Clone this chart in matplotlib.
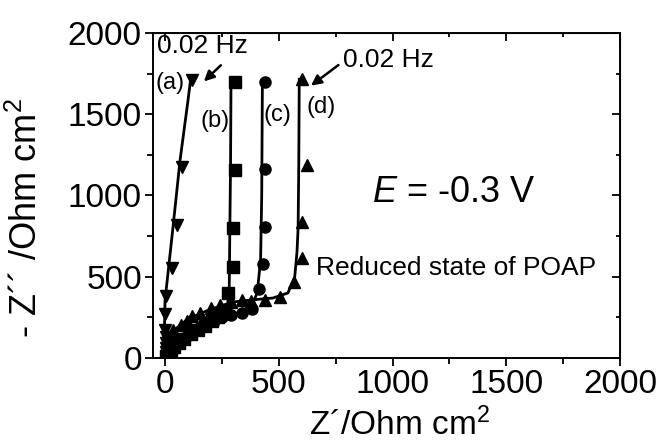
import matplotlib
matplotlib.use("Agg")
import matplotlib.pyplot as plt

plt.rcParams['font.family'] = ['Liberation Sans', 'DejaVu Sans']
plt.rcParams['mathtext.fontset'] = 'custom'
plt.rcParams['mathtext.rm'] = 'Liberation Sans'
plt.rcParams['mathtext.it'] = 'Liberation Sans:italic'

# ---- data ----
# (a) inverted triangles
xa = [3, 3, 3, 5, 3, 0, 0, 5, 31, 52, 75, 120]
ya = [15, 35, 60, 95, 130, 172, 270, 380, 553, 818, 1174, 1710]
fxa = [-5, 0, 13, 35, 66, 101, 112]
fya = [0, 356, 522, 805, 1217, 1586, 1710]

# (b) squares
xb = [5, 12, 25, 40, 60, 85, 115, 145, 175, 205, 235, 263, 276, 298, 298, 307, 307]
yb = [12, 28, 45, 65, 90, 115, 145, 175, 200, 225, 255, 295, 402, 559, 800, 1155, 1696]
fxb = [0, 100, 200, 270, 282, 285, 288, 290]
fyb = [0, 120, 210, 290, 400, 800, 1200, 1700]

# (c) circles
xc = [5, 12, 25, 40, 60, 90, 120, 150, 180, 215, 250, 290, 338, 382, 412, 430, 439, 439, 439]
yc = [12, 30, 50, 75, 100, 130, 160, 185, 205, 230, 250, 265, 277, 300, 424, 578, 805, 1160, 1696]
fxc = [0, 150, 300, 380, 405, 420, 425, 428]
fyc = [0, 170, 260, 320, 400, 600, 1000, 1700]

# (d) triangles
xd = [2, 5, 10, 20, 35, 70, 96, 120, 154, 200, 241, 290, 338, 380, 440, 504, 566, 601, 601, 623, 601]
yd = [30, 60, 95, 130, 172, 205, 228, 260, 280, 305, 326, 345, 356, 350, 355, 375, 467, 615, 836, 1186, 1715]
fxd = [0, 30, 100, 200, 300, 400, 474, 540, 570, 580, 585, 588, 590]
fyd = [0, 160, 240, 300, 345, 360, 369, 400, 498, 650, 800, 1200, 1715]

xticks = [0, 500, 1000, 1500, 2000]
yticks = [0, 500, 1000, 1500, 2000]
minor_ticks = [250, 750, 1250, 1750]

fig = plt.figure(figsize=(6.64, 4.41), dpi=100)
ax = fig.add_axes([0.2304, 0.1882, 0.7033, 0.7370])

lw = 2.0
ms = 8
ax.plot(fxa, fya, color='black', lw=lw)
ax.plot(fxb, fyb, color='black', lw=lw)
ax.plot(fxc, fyc, color='black', lw=lw)
ax.plot(fxd, fyd, color='black', lw=lw)
ax.plot(xa, ya, linestyle='none', marker='v', color='black', ms=ms + 1)
ax.plot(xb, yb, linestyle='none', marker='s', color='black', ms=ms)
ax.plot(xc, yc, linestyle='none', marker='o', color='black', ms=ms)
ax.plot(xd, yd, linestyle='none', marker='^', color='black', ms=ms + 1)

ax.set_xlim(-53, 2000)
ax.set_ylim(0, 2000)
ax.set_xticks(xticks)
ax.set_yticks(yticks)
ax.set_xticks(minor_ticks, minor=True)
ax.set_yticks(minor_ticks, minor=True)
ax.tick_params(which='both', direction='out', width=1.3, labelsize=24, pad=2)
ax.tick_params(which='major', length=6)
ax.tick_params(which='minor', length=4)
for s in ax.spines.values():
    s.set_linewidth(1.4)

sx = ax.secondary_xaxis('top')
sx.set_xticks(xticks)
sx.set_xticks(minor_ticks, minor=True)
sx.tick_params(which='both', direction='in', width=1.3, labeltop=False)
sx.tick_params(which='major', length=6)
sx.tick_params(which='minor', length=3)
sy = ax.secondary_yaxis('right')
sy.set_yticks(yticks)
sy.set_yticks(minor_ticks, minor=True)
sy.tick_params(which='both', direction='in', width=1.3, labelright=False)
sy.tick_params(which='major', length=6)
sy.tick_params(which='minor', length=3)

ax.set_xlabel("Z\u00b4/Ohm cm$^\\mathregular{2}$", fontsize=24)
ax.set_ylabel("- Z\u00b4\u00b4 /Ohm cm$^\\mathregular{2}$", fontsize=26)
ax.xaxis.set_label_coords(0.527, -0.152)
ax.yaxis.set_label_coords(-0.232, 0.43)

ax.text(-35, 1995, "0.02 Hz", fontsize=19, ha='left', va='top')
ax.annotate("", xy=(162, 1690), xytext=(254, 1813),
            arrowprops=dict(arrowstyle='-|>', color='black', lw=1.8, mutation_scale=15))
ax.text(22, 1690, "(a)", fontsize=17, ha='center', va='center')
ax.text(219, 1457, "(b)", fontsize=17, ha='center', va='center')
ax.text(496, 1494, "(c)", fontsize=17, ha='center', va='center')
ax.text(684, 1543, "(d)", fontsize=17, ha='center', va='center')
ax.text(781, 1832, "0.02 Hz", fontsize=19, ha='left', va='center')
ax.annotate("", xy=(632, 1666), xytext=(772, 1813),
            arrowprops=dict(arrowstyle='-|>', color='black', lw=1.8, mutation_scale=15))
ax.text(1268, 1020, "$\\mathit{E}$ = -0.3 V", fontsize=26, ha='center', va='center')
ax.text(1281, 553, "Reduced state of POAP", fontsize=19, ha='center', va='center')

fig.savefig("out.png", dpi=100)
